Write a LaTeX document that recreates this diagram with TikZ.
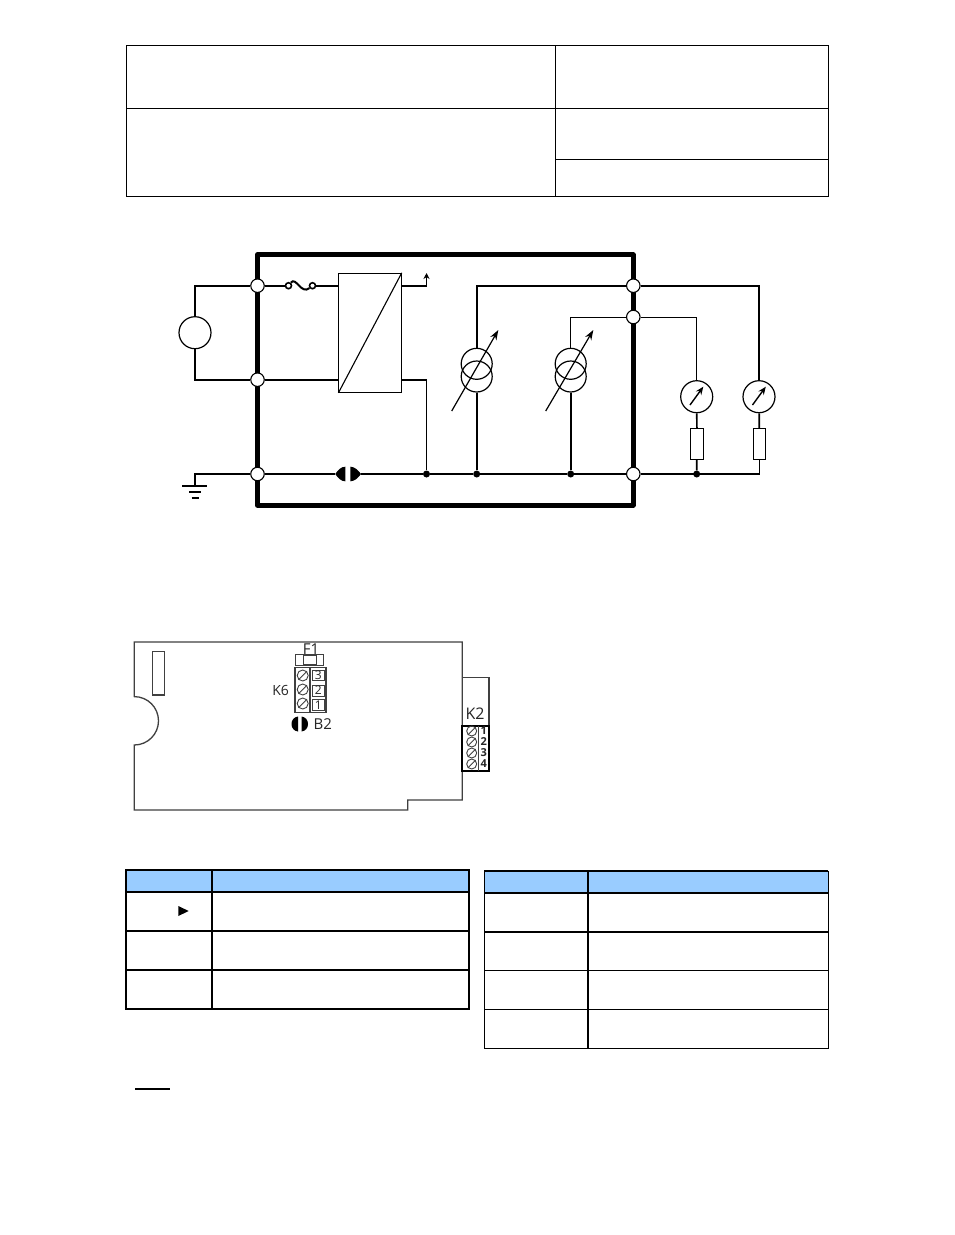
\documentclass[tikz,border=0pt]{standalone}
\usepackage{fontspec}
\setmainfont{Open Sans}
\usetikzlibrary{arrows.meta}
\definecolor{headblue}{HTML}{99CCFF}
\definecolor{pcbgray}{HTML}{404040}
\tikzset{
	wire/.style={line width=1.7pt},
	thinwire/.style={line width=.9pt},
	frame/.style={line width=4.6pt,line join=round},
	terminal/.style={circle,draw,fill=white,line width=1.1pt,minimum size=13.5pt,inner sep=0pt},
	junction/.style={circle,fill=black,minimum size=7pt,inner sep=0pt},
	ring/.style={circle,draw,line width=1.2pt,minimum size=32pt,inner sep=0pt},
	fuseend/.style={circle,draw,line width=1.6pt,minimum size=6pt,inner sep=0pt},
	load/.style={rectangle,draw,line width=1pt,inner sep=0pt},
	pcb/.style={line width=1.3pt,draw=pcbgray},
	screw/.style={circle,draw=pcbgray,line width=.9pt,minimum size=11pt,inner sep=0pt},
	screwsmall/.style={circle,draw=pcbgray,line width=.9pt,minimum size=10pt,inner sep=0pt},
	pcblabel/.style={font=\fontsize{15}{15}\selectfont,text=black!85,inner sep=0pt},
	pinlabel/.style={font=\fontsize{11}{11}\selectfont,text=black!85,inner sep=0pt},
	cell/.style={line width=1pt},
	cellheavy/.style={line width=1.8pt},
}
\begin{document}
\begin{tikzpicture}[x=1pt,y=-1pt]
	\useasboundingbox[fill=white] (0,0) rectangle (954,1235);
	\draw[cell] (126.5,45.5) rectangle (828.5,196.5);
	\draw[cell] (126.5,108.5) -- (828.5,108.5);
	\draw[cell] (555.5,45.5) -- (555.5,196.5);
	\draw[cell] (555.5,159.5) -- (828.5,159.5);

	\draw[frame] (257.5,254.7) rectangle (633.3,505.3);
	\node[terminal] (termA) at (257.5,285.7) {};
	\node[terminal] (termB) at (257.5,379.7) {};
	\node[terminal] (termC) at (257.5,474) {};
	\node[terminal] (termD) at (633.3,285.7) {};
	\node[terminal] (termE) at (633.3,317) {};
	\node[terminal] (termF) at (633.3,474) {};
	\node[ring] (supply) at (195,332.7) {};
	\draw[wire] (termA) -| (supply);
	\draw[wire] (termB) -| (supply);
	\coordinate (earth) at (195,486.3);
	\draw[wire] (termC) -| (earth);
	\draw[wire] (182,486.3) -- (207,486.3);
	\draw[wire] (189,492.3) -- (201,492.3);
	\draw[wire] (191.5,498.3) -- (198.5,498.3);

	\node[load,minimum width=62.3pt,minimum height=119pt] (conv) at (370.1,332.8) {};
	\draw[line width=1.1pt] (conv.south west) -- (conv.north east);
	\node[fuseend] (fuseL) at (288.5,285.7) {};
	\node[fuseend] (fuseR) at (312.5,285.7) {};
	\draw[wire] (termA) -- (fuseL);
	\draw[line width=2pt] (fuseL) .. controls (296,276) and (301,295) .. (fuseR);
	\draw[wire] (fuseR) -- (fuseR -| conv.west);
	\draw[wire] (termB) -- (termB -| conv.west);
	\coordinate (auxTip) at (426.5,273);
	\node[junction] (dotA) at (426.5,474) {};
	\draw[wire,-{Stealth[length=6pt,width=6pt]}] (conv.east |- fuseR) -| (auxTip);
	\draw[wire] (conv.east |- termB) -- (dotA |- termB);
	\draw[thinwire] (dotA |- termB) -- (dotA);

	\node[junction] (dotB) at (476.7,474) {};
	\node[junction] (dotC) at (570.7,474) {};
	\node[junction] (dotD) at (696.7,474) {};
	\coordinate (b2L) at (335.3,474);
	\coordinate (b2R) at (361,474);
	\fill (345.3,466.7) .. controls (341,466.7) and (338,470) .. (b2L) .. controls (338,478) and (341,481.3) .. (345.3,481.3) -- cycle;
	\fill (350.3,466.7) .. controls (354.5,466.7) and (358,470) .. (b2R) .. controls (358,478) and (354.5,481.3) .. (350.3,481.3) -- cycle;
	\draw[wire] (termC) -- (b2L);
	\draw[wire] (b2R) -- (dotA);
	\draw[wire] (dotA) -- (dotB);
	\draw[wire] (dotB) -- (dotC);
	\draw[wire] (dotC) -- (termF);

	\node[ring,minimum size=31pt] (srcA) at (476.7,363.8) {};
	\node[ring,minimum size=31pt] (srcB) at (476.7,376.5) {};
	\node[ring,minimum size=31pt] (srcC) at (570.7,363.8) {};
	\node[ring,minimum size=31pt] (srcD) at (570.7,376.5) {};
	\draw[wire] (termD) -| (srcA);
	\draw[wire] (srcB) -- (dotB);
	\draw[thinwire] (termE) -- (termE -| srcC);
	\draw[line width=1.4pt] (termE -| srcC) -- (srcC);
	\draw[wire] (srcD) -- (dotC);
	\draw[line width=1.2pt,-{Stealth[length=10pt,width=7pt]}] (451.7,411) -- (498.3,330);
	\draw[line width=1.2pt,-{Stealth[length=10pt,width=7pt]}] (545.7,411) -- (593.3,330);

	\node[ring] (meterA) at (696.7,396.7) {};
	\node[ring] (meterB) at (759,396.7) {};
	\node[load,minimum width=13.4pt,minimum height=31pt] (resA) at (697,443.8) {};
	\node[load,minimum width=12.4pt,minimum height=31pt] (resB) at (759.5,443.8) {};
	\coordinate (cornerF) at (759.5,474);
	\draw[thinwire] (termE) -| (meterA);
	\draw[wire] (termD) -| (meterB);
	\draw[wire] (meterA) -- (resA);
	\draw[wire] (meterB) -- (resB);
	\draw[wire] (resA) -- (dotD);
	\draw[wire] (resB) -- (cornerF);
	\draw[wire] (termF) -- (cornerF);
	\draw[line width=1.4pt,-{Stealth[length=8pt,width=6.5pt]}] (690,405) -- (703.3,386.7);
	\draw[line width=1.4pt,-{Stealth[length=8pt,width=6.5pt]}] (752.5,405) -- (765.8,386.7);

	\draw[pcb] (134.3,642) -- (462.3,642) -- (462.3,800) -- (407.7,800) -- (407.7,810) -- (134.3,810) -- (134.3,745) arc[start angle=90,end angle=-90,radius=24.2] -- cycle;
	\draw[pcb] (152.7,651.7) rectangle (164.7,695);
	\draw[pcb] (462.3,677.7) -- (489,677.7) -- (489,726);
	\draw[line width=1.8pt] (462.3,725.7) rectangle (489,770.7);
	\draw[pcb,line width=.9pt] (478.3,725.7) -- (478.3,770.7);
	\node[pcblabel,font=\fontsize{16}{16}\selectfont] (labK2) at (475,714) {K2};
	\node[screwsmall] (k2a) at (471.7,731) {};
	\node[screwsmall] (k2b) at (471.7,742) {};
	\node[screwsmall] (k2c) at (471.7,753) {};
	\node[screwsmall] (k2d) at (471.7,764) {};
	\draw[pcb,line width=.9pt] (k2a.south west) -- (k2a.north east);
	\draw[pcb,line width=.9pt] (k2b.south west) -- (k2b.north east);
	\draw[pcb,line width=.9pt] (k2c.south west) -- (k2c.north east);
	\draw[pcb,line width=.9pt] (k2d.south west) -- (k2d.north east);
	\node[pinlabel] (pin1) at (483.7,731) {\bfseries 1};
	\node[pinlabel] (pin2) at (483.7,742) {\bfseries 2};
	\node[pinlabel] (pin3) at (483.7,753) {\bfseries 3};
	\node[pinlabel] (pin4) at (483.7,764) {\bfseries 4};

	\node[pcblabel] (labF1) at (311,649) {F1};
	\draw[pcb] (295.7,654.3) rectangle (323.7,665.7);
	\draw[pcb] (303.3,655.5) rectangle (316.7,664.5);
	\draw[pcb] (295,667.3) rectangle (326,712.7);
	\draw[pcb] (310,667.3) -- (310,712.7);
	\node[pcblabel,font=\fontsize{14}{14}\selectfont] (labK6) at (280.7,690) {K6};
	\node[screw] (k6a) at (302.7,675.5) {};
	\node[screw] (k6b) at (302.7,689.5) {};
	\node[screw] (k6c) at (302.7,703.5) {};
	\draw[pcb,line width=.9pt] (k6a.south west) -- (k6a.north east);
	\draw[pcb,line width=.9pt] (k6b.south west) -- (k6b.north east);
	\draw[pcb,line width=.9pt] (k6c.south west) -- (k6c.north east);
	\draw[pcb,line width=.8pt] (312.7,670) rectangle (324,680.5);
	\draw[pcb,line width=.8pt] (312.7,685) rectangle (324,696);
	\draw[pcb,line width=.8pt] (312.7,699.5) rectangle (324,710.5);
	\node[pinlabel,font=\fontsize{12}{12}\selectfont] (pinK3) at (318.3,675.5) {3};
	\node[pinlabel,font=\fontsize{12}{12}\selectfont] (pinK2) at (318.3,690.5) {2};
	\node[pinlabel,font=\fontsize{12}{12}\selectfont] (pinK1) at (318.3,705) {1};
	\fill (298,716.5) .. controls (294,717) and (291.5,720) .. (291.5,724) .. controls (291.5,728) and (294,731) .. (298,731.5) -- cycle;
	\fill (301.5,716.5) .. controls (305.5,717) and (308,720) .. (308,724) .. controls (308,728) and (305.5,731) .. (301.5,731.5) -- cycle;
	\node[pcblabel] (labB2) at (322.7,724) {B2};

	\fill[headblue] (125.7,870) rectangle (469.3,892);
	\draw[cellheavy] (125.7,870) rectangle (469.3,1008.7);
	\draw[cellheavy] (125.7,892) -- (469.3,892);
	\draw[cellheavy] (125.7,931) -- (469.3,931);
	\draw[cellheavy] (125.7,970) -- (469.3,970);
	\draw[cellheavy] (211.7,870) -- (211.7,1008.7);
	\fill (178.3,906) -- (188.7,911) -- (178.3,916) -- cycle;

	\fill[headblue] (484.3,871) rectangle (828.3,892.7);
	\draw[cell] (484.3,871) rectangle (828.3,1048.3);
	\draw[cellheavy] (484.3,871) -- (828.3,871);
	\draw[cellheavy] (484.3,892.7) -- (828.3,892.7);
	\draw[cellheavy] (484.3,931.7) -- (828.3,931.7);
	\draw[cell] (484.3,970.3) -- (828.3,970.3);
	\draw[cell] (484.3,1009.3) -- (828.3,1009.3);
	\draw[cellheavy] (588,871) -- (588,1048.3);

	\draw[wire] (135,1089) -- (170,1089);
\end{tikzpicture}
\end{document}
